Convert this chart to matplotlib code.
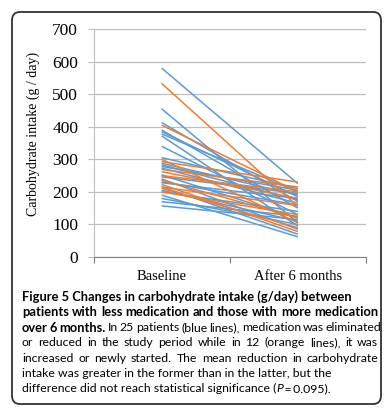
import matplotlib
matplotlib.use("Agg")
import matplotlib.pyplot as plt
from matplotlib.patches import FancyBboxPatch

# datos: carbohidratos (g/dia) al inicio y a los 6 meses
categorias = ["Baseline", "After 6 months"]
azul_inicio = [580, 455, 413, 390, 385, 378, 372, 340, 305, 288, 283, 278, 273,
               252, 246, 240, 231, 228, 216, 205, 200, 190, 180, 170, 157]
azul_final = [225, 105, 170, 150, 185, 200, 95, 130, 210, 190, 175, 205, 165,
              120, 195, 85, 160, 180, 70, 110, 140, 62, 100, 125, 115]
naranja_inicio = [533, 405, 300, 293, 269, 262, 250, 236, 223, 215, 211, 200]
naranja_final = [155, 200, 105, 230, 215, 180, 200, 120, 78, 158, 90, 130]
y_ticks = [0, 100, 200, 300, 400, 500, 600, 700]

AZUL = "#5B9BD5"
NARANJA = "#ED7D31"
GRIS = "#BFBFBF"

fig = plt.figure(figsize=(3.91, 4.18), dpi=100)
ax = fig.add_axes([93.5 / 391, 1 - 257 / 418, (366 - 93.5) / 391, (257 - 29) / 418])

for a, b in zip(azul_inicio, azul_final):
    ax.plot([0, 1], [a, b], color=AZUL, lw=1.1, solid_capstyle="butt")
for a, b in zip(naranja_inicio, naranja_final):
    ax.plot([0, 1], [a, b], color=NARANJA, lw=1.1, solid_capstyle="butt")

ax.set_xlim(-0.5, 1.5)
ax.set_ylim(0, 700)
ax.set_yticks(y_ticks)
ax.set_yticklabels([str(v) for v in y_ticks], family="Liberation Serif", fontsize=12.5)
ax.grid(axis="y", color=GRIS, lw=0.9)
ax.set_axisbelow(True)

# ticks de categorias
ax.set_xticks([-0.5, 0.5, 1.5])
ax.set_xticklabels([])
ax.set_xticks([0, 1], minor=True)
ax.set_xticklabels(categorias, minor=True, family="Liberation Serif", fontsize=10.5)
ax.tick_params(axis="x", which="minor", length=0, pad=9)
ax.tick_params(axis="x", which="major", length=4, color="#7F7F7F", direction="out")
ax.tick_params(axis="y", length=4, color=GRIS, pad=7)

for s in ["top", "right"]:
    ax.spines[s].set_visible(False)
ax.spines["left"].set_color(GRIS)
ax.spines["bottom"].set_color("#7F7F7F")

fig.text(33 / 391, 1 - 134 / 418, "Carbohydrate intake (g / day)", rotation=90,
         family="Liberation Serif", fontsize=10, ha="center", va="center")

# marco redondeado
marco = FancyBboxPatch((12 / 391, 1 - 404 / 418), (381 - 12) / 391, (404 - 12) / 418,
                       boxstyle="round,pad=0,rounding_size=0.02", transform=fig.transFigure,
                       fill=False, ec="#333333", lw=1.3)
fig.patches.append(marco)

# pie de figura, justificado a mano
lineas = [
    ([("Figure 5 Changes in carbohydrate intake (g/day) between", "bold", "normal")], False),
    ([("patients with less medication and those with more medication", "bold", "normal")], True),
    ([("over 6 months.", "bold", "normal"),
      ("In 25 patients (blue lines), medication was eliminated", "normal", "normal")], True),
    ([("or reduced in the study period while in 12 (orange lines), it was", "normal", "normal")], True),
    ([("increased or newly started. The mean reduction in carbohydrate", "normal", "normal")], True),
    ([("intake was greater in the former than in the latter, but the", "normal", "normal")], False),
    ([("difference did not reach statistical significance (", "normal", "normal"),
      ("P", "normal", "italic"), ("\u2009=\u20090.095).", "normal", "normal")], False),
]
x0, x1 = 22, 378
y0, dy = 297, 15.3
fs_bold, fs_reg = 9.3, 8.8
renderer = fig.canvas.get_renderer()


def tam(peso):
    return fs_bold if peso == "bold" else fs_reg


for i, (partes, justificar) in enumerate(lineas):
    y = 1 - (y0 + i * dy) / 418
    if justificar:
        palabras = []
        for texto, peso, estilo in partes:
            for w in texto.split(" "):
                palabras.append((w, peso, estilo))
        objs = [fig.text(0, y, w, fontsize=tam(p), family="Lato", weight=p, style=e, va="center")
                for w, p, e in palabras]
        anchos = [o.get_window_extent(renderer).width for o in objs]
        hueco = max((x1 - x0 - sum(anchos)) / (len(objs) - 1), 2.0)
        x = x0
        for o, a in zip(objs, anchos):
            o.set_x(x / 391)
            x += a + hueco
    else:
        x = x0
        for texto, peso, estilo in partes:
            o = fig.text(x / 391, y, texto, fontsize=tam(peso), family="Lato", weight=peso,
                         style=estilo, va="center")
            x += o.get_window_extent(renderer).width

fig.savefig("out.png", dpi=100)
